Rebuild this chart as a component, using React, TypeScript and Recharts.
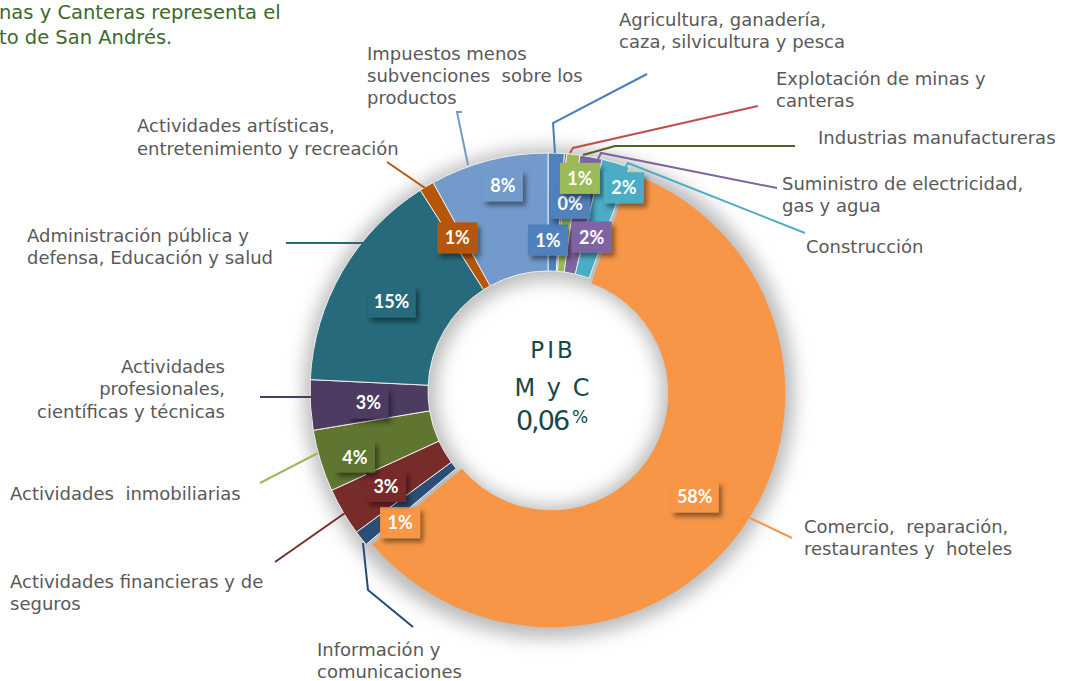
import React from 'react';
import { PieChart, Pie, Cell } from 'recharts';

// ---------- data ----------
const categories = [
  'Agricultura, ganadería, caza, silvicultura y pesca',
  'Explotación de minas y canteras',
  'Industrias manufactureras',
  'Suministro de electricidad, gas y agua',
  'Construcción',
  'Comercio, reparación, restaurantes y hoteles',
  'Información y comunicaciones',
  'Actividades financieras y de seguros',
  'Actividades inmobiliarias',
  'Actividades profesionales, científicas y técnicas',
  'Administración pública y defensa, Educación y salud',
  'Actividades artísticas, entretenimiento y recreación',
  'Impuestos menos subvenciones sobre los productos',
];
const shares = [1.1, 0.15, 0.9, 1.5, 1.9, 58.2, 1.05, 3.25, 4.2, 3.4, 15.2, 1.0, 8.0];
const nameLines = [
  ['Agricultura, ganadería,', 'caza, silvicultura y pesca'],
  ['Explotación de minas y', 'canteras'],
  ['Industrias manufactureras'],
  ['Suministro de electricidad,', 'gas y agua'],
  ['Construcción'],
  ['Comercio,  reparación,', 'restaurantes y  hoteles'],
  ['Información y', 'comunicaciones'],
  ['Actividades financieras y de', 'seguros'],
  ['Actividades  inmobiliarias'],
  ['Actividades', 'profesionales,', 'científicas y técnicas'],
  ['Administración pública y', 'defensa, Educación y salud'],
  ['Actividades artísticas,', 'entretenimiento y recreación'],
  ['Impuestos menos', 'subvenciones  sobre los', 'productos'],
];
const titleLines = ['nas y Canteras representa el', 'to de San Andrés.'];
const centerTitle = ['PIB', 'M y C'];
const centerValue = '0,06';
const centerUnit = '%';

const EXPLODED = 5; // index of the separated slice (Comercio)

// ---------- styles / layout ----------
const sliceColors = ['#4f81bd', '#c0504d', '#9bbb59', '#8064a2', '#4bacc6', '#f79646', '#2c4d75', '#772c2a', '#5f7530', '#4d3b62', '#276a7c', '#b65708', '#729aca'];
const lineColors = ['#4a7ebb', '#c0504d', '#4f6228', '#8064a2', '#4bacc6', '#f79646', '#254a78', '#772c2a', '#9bbb59', '#4d3b62', '#276a7c', '#b65708', '#729aca'];
const boxColors = ['#4f81bd', '#4f81bd', '#9bbb59', '#8064a2', '#4bacc6', '#f79646', '#f79646', '#772c2a', '#5f7530', '#4d3b62', '#276a7c', '#b65708', '#729aca'];
// [angle nudge (deg, clockwise), radius] for the percentage boxes
const pctLayout: [number, number][] = [
  [-2, 151], [2.5, 189], [2.4, 215], [5.4, 160], [3.9, 217], [0.9, 181], [-3.4, 198],
  [0, 188], [-1.8, 204], [-0.4, 180], [-0.5, 180], [0, 178], [2, 210],
];
type NameLayout = { pts: number[][]; x: number; ys: number[]; anchor?: 'start' | 'end' };
const nameLayout: NameLayout[] = [
  { pts: [[555, 153], [553, 123], [647, 74]], x: 619, ys: [26, 48] },
  { pts: [[570, 153], [573, 148], [758, 106]], x: 776, ys: [85, 107] },
  { pts: [[583, 155], [615, 146], [795, 146]], x: 818, ys: [144] },
  { pts: [[598, 159], [601, 153], [777, 188]], x: 782, ys: [190, 212] },
  { pts: [[625, 168], [628, 163], [805, 233]], x: 806, ys: [253] },
  { pts: [[750, 518], [792, 538]], x: 804, ys: [533, 555] },
  { pts: [[363, 543], [368, 590], [413, 627]], x: 317, ys: [656, 678] },
  { pts: [[345, 513], [275, 562]], x: 10, ys: [588, 610] },
  { pts: [[318, 453], [260, 483]], x: 10, ys: [500] },
  { pts: [[311, 397], [260, 397]], x: 225, ys: [373, 395, 418], anchor: 'end' },
  { pts: [[365, 243], [286, 243]], x: 27, ys: [242, 264] },
  { pts: [[425, 188], [387, 162]], x: 137, ys: [132, 155] },
  { pts: [[468, 165], [457, 112], [462, 112]], x: 367, ys: [60, 82, 104] },
];

const W = 1077;
const H = 681;
const CX = 548;
const CY = 391;
const IR = 120;
const OR = 238;
const RAD = Math.PI / 180;

const data = categories.map((name, i) => ({ name, value: shares[i] }));

const textFont = '"DejaVu Sans", Verdana, sans-serif';

function renderLabel(props: any) {
  const { index, midAngle, percent } = props;
  const [dA, r] = pctLayout[index];
  const theta = (90 - midAngle + dA) * RAD;
  const x = CX + r * Math.sin(theta);
  const y = CY - r * Math.cos(theta);
  const txt = `${Math.round(percent * 100)}%`;
  const w = txt.length > 2 ? 48 : 40;
  const h = 31;
  const nl = nameLayout[index];
  return (
    <g key={`lbl-${index}`}>
      <polyline
        points={nl.pts.map((p) => p.join(',')).join(' ')}
        fill="none"
        stroke={lineColors[index]}
        strokeWidth={2}
      />
      <text
        x={nl.x}
        fontFamily={textFont}
        fontSize={18}
        fill="#595959"
        textAnchor={nl.anchor || 'start'}
        style={{ whiteSpace: 'pre' }}
      >
        {nameLines[index].map((ln, k) => (
          <tspan key={k} x={nl.x} y={nl.ys[k]}>
            {ln}
          </tspan>
        ))}
      </text>
      <rect x={x - w / 2} y={y - h / 2} width={w} height={h} fill={boxColors[index]} filter="url(#boxShadow)" />
      <text
        x={x}
        y={y + 6.5}
        textAnchor="middle"
        fontFamily="Lato, 'Open Sans', sans-serif"
        fontWeight={700}
        fontSize={18}
        fill="#ffffff"
      >
        {txt}
      </text>
    </g>
  );
}

const shiftTheta = (() => {
  const total = shares.reduce((a, b) => a + b, 0);
  const before = shares.slice(0, EXPLODED).reduce((a, b) => a + b, 0);
  return ((before + shares[EXPLODED] / 2) / total) * 360 * RAD;
})();
const SHIFT = 4;

export default function App() {
  return (
    <div style={{ position: 'absolute', left: 0, top: 0, width: W, height: H, background: '#fff' }}>
      <svg width={W} height={H} style={{ position: 'absolute', left: 0, top: 0 }}>
        <defs>
          <filter id="glow" x="-30%" y="-30%" width="160%" height="160%">
            <feGaussianBlur stdDeviation="9" />
          </filter>
          <filter id="boxShadow" x="-30%" y="-30%" width="180%" height="180%">
            <feDropShadow dx="3" dy="4" stdDeviation="2.5" floodColor="#000" floodOpacity="0.45" />
          </filter>
        </defs>
        <circle
          cx={CX + 1}
          cy={CY + 2}
          r={(IR + OR) / 2}
          fill="none"
          stroke="#8c8c8c"
          strokeOpacity={0.6}
          strokeWidth={OR - IR + 14}
          filter="url(#glow)"
        />
      </svg>
      <div style={{ position: 'absolute', left: 0, top: 0 }}>
        <PieChart width={W} height={H} margin={{ top: 0, right: 0, bottom: 0, left: 0 }}>
          <Pie
            data={data}
            dataKey="value"
            nameKey="name"
            cx={CX + SHIFT * Math.sin(shiftTheta)}
            cy={CY - SHIFT * Math.cos(shiftTheta)}
            innerRadius={IR - 3}
            outerRadius={OR - 4}
            startAngle={90}
            endAngle={-270}
            isAnimationActive={false}
          >
            {data.map((d, i) => (
              <Cell key={i} fill={i === EXPLODED ? sliceColors[i] : 'none'} stroke="none" />
            ))}
          </Pie>
          <Pie
            data={data}
            dataKey="value"
            nameKey="name"
            cx={CX}
            cy={CY}
            innerRadius={IR}
            outerRadius={OR}
            startAngle={90}
            endAngle={-270}
            isAnimationActive={false}
            label={renderLabel}
            labelLine={false}
          >
            {data.map((d, i) => (
              <Cell
                key={i}
                fill={i === EXPLODED ? 'none' : sliceColors[i]}
                stroke={i === EXPLODED ? 'none' : '#eeeeee'}
                strokeWidth={1}
              />
            ))}
          </Pie>
        </PieChart>
      </div>
      <svg width={W} height={H} style={{ position: 'absolute', left: 0, top: 0, pointerEvents: 'none' }}>
        <text fontFamily={textFont} fontSize={19.5} fill="#3a6b2a">
          <tspan x={-1} y={19}>{titleLines[0]}</tspan>
          <tspan x={-1} y={44}>{titleLines[1]}</tspan>
        </text>
        <text x={553} y={358} textAnchor="middle" fontFamily={textFont} fontSize={23} fill="#184848" letterSpacing={3}>
          {centerTitle[0]}
        </text>
        <text x={553} y={396} textAnchor="middle" fontFamily={textFont} fontSize={24} fill="#184848" letterSpacing={2}>
          {centerTitle[1]}
        </text>
        <text x={542} y={430} textAnchor="middle" fontFamily={textFont} fontSize={27} fill="#184848" letterSpacing={-2}>
          {centerValue}
        </text>
        <text x={572} y={423} fontFamily={textFont} fontSize={17} fill="#184848">
          {centerUnit}
        </text>
      </svg>
    </div>
  );
}
